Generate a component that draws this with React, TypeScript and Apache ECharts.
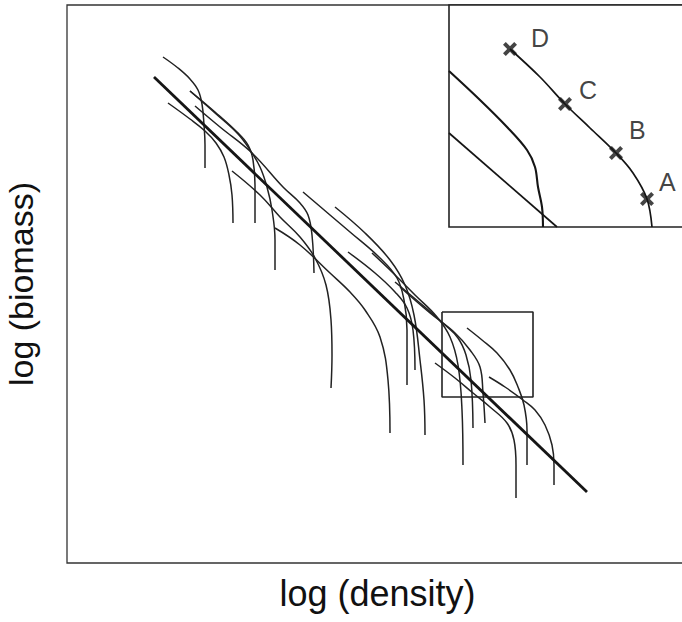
import React, { useEffect, useRef } from "react";
import * as echarts from "echarts";

// Main panel: x = log(density), y = log(biomass), arbitrary units
const thickLine: number[][] = [[87, 486], [520, 71]];

const thinCurves: number[][][] = [
  [[96, 506], [111, 495], [123, 484], [131, 473], [135, 459], [137, 438], [138, 418], [138, 395]],
  [[101, 460], [123, 444], [138, 432], [149, 420], [157, 406], [162, 388], [165, 368], [166, 340]],
  [[123, 472], [148, 451], [170, 431], [181, 418], [186, 403], [188, 378], [188, 340]],
  [[123, 472], [148, 450], [171, 429], [183, 413], [193, 396], [200, 376], [205, 353], [208, 323], [208, 293]],
  [[128, 457], [153, 436], [185, 410], [216, 376], [233, 360], [241, 348], [245, 328], [247, 290]],
  [[165, 392], [193, 368], [213, 346], [233, 326], [248, 305], [259, 278], [264, 243], [265, 208], [264, 175]],
  [[208, 335], [233, 318], [263, 290], [283, 271], [298, 253], [313, 226], [321, 183], [323, 130]],
  [[236, 371], [263, 348], [283, 331], [313, 305], [330, 285], [337, 263], [340, 233], [340, 178]],
  [[281, 311], [308, 290], [328, 271], [340, 255], [346, 233], [348, 193]],
  [[268, 356], [298, 330], [323, 303], [338, 278], [347, 248], [353, 203], [357, 163], [358, 128]],
  [[305, 310], [323, 293], [348, 268], [370, 246], [383, 226], [391, 198], [395, 153], [396, 98]],
  [[328, 281], [353, 260], [378, 238], [391, 225], [399, 208], [404, 183], [406, 135]],
  [[333, 276], [363, 250], [388, 230], [403, 213], [413, 196], [416, 170], [418, 140]],
  [[400, 235], [415, 223], [430, 210], [443, 193], [451, 176], [457, 158], [460, 133], [460, 98]],
  [[422, 186], [438, 176], [456, 163], [468, 153], [478, 138], [485, 118], [487, 98], [487, 78]],
  [[368, 200], [388, 185], [406, 170], [423, 156], [440, 140], [447, 123], [449, 98], [449, 65]],
];

const zoomBox: number[][] = [[375, 251], [466, 251], [466, 166], [375, 166], [375, 251]];

// Inset (magnified region)
const insetMarkedCurve: number[][] = [[61, 178], [91, 150], [116, 123], [141, 99], [167, 74], [184, 54], [198, 28], [203, 0]];
const insetBentCurve: number[][] = [[0, 156], [31, 127], [58, 100], [78, 77], [86, 60], [89, 40], [93, 20], [94, 0]];
const insetStraight: number[][] = [[0, 94], [108, 0]];
const insetPoints: number[][] = [[61, 178], [116, 123], [167, 74], [198, 28]];
const insetLabels: string[] = ["D", "C", "B", "A"];
const labelOffsets: number[][] = [[9, -11], [2, -14], [1, -23], [0, -17]];

const xLabel = "log (density)";
const yLabel = "log (biomass)";

const FONT = "'Liberation Sans', Arial, Helvetica, sans-serif";
const INK = "#151515";
const X_MARK = "path://M0,2L2,0L5,3L8,0L10,2L7,5L10,8L8,10L5,7L2,10L0,8L3,5Z";

export default function App() {
  const ref = useRef<HTMLDivElement>(null);
  useEffect(() => {
    if (!ref.current) return;
    const chart = echarts.init(ref.current, undefined, { renderer: "svg" });
    const hidden = {
      axisLine: { show: false },
      axisTick: { show: false },
      axisLabel: { show: false },
      splitLine: { show: false },
    };
    const series: any[] = [];
    thinCurves.forEach((c, i) => {
      series.push({
        type: "line",
        name: "curve" + i,
        data: c,
        smooth: 0.4,
        showSymbol: false,
        lineStyle: { color: "#222", width: 1.5 },
        xAxisIndex: 0,
        yAxisIndex: 0,
        z: 2,
      });
    });
    series.push({
      type: "line",
      data: thickLine,
      showSymbol: false,
      lineStyle: { color: INK, width: 2.8 },
      xAxisIndex: 0,
      yAxisIndex: 0,
      z: 3,
    });
    series.push({
      type: "line",
      data: zoomBox,
      showSymbol: false,
      lineStyle: { color: "#222", width: 1.6 },
      xAxisIndex: 0,
      yAxisIndex: 0,
      z: 3,
    });
    series.push({
      type: "line",
      data: insetMarkedCurve,
      smooth: 0.35,
      showSymbol: false,
      lineStyle: { color: INK, width: 1.7 },
      xAxisIndex: 1,
      yAxisIndex: 1,
      z: 5,
    });
    series.push({
      type: "line",
      data: insetBentCurve,
      smooth: 0.35,
      showSymbol: false,
      lineStyle: { color: INK, width: 2.1 },
      xAxisIndex: 1,
      yAxisIndex: 1,
      z: 5,
    });
    series.push({
      type: "line",
      data: insetStraight,
      showSymbol: false,
      lineStyle: { color: INK, width: 1.7 },
      xAxisIndex: 1,
      yAxisIndex: 1,
      z: 5,
    });
    series.push({
      type: "scatter",
      data: insetPoints.map((p, i) => ({
        value: p,
        label: {
          show: true,
          formatter: insetLabels[i],
          position: "right",
          distance: 5,
          offset: labelOffsets[i],
        },
      })),
      symbol: X_MARK,
      symbolSize: 14,
      itemStyle: { color: INK },
      label: { color: "#111", fontSize: 25, fontFamily: FONT },
      xAxisIndex: 1,
      yAxisIndex: 1,
      z: 6,
    });

    chart.setOption({
      animation: false,
      backgroundColor: "#ffffff",
      grid: [
        {
          left: 67,
          top: 5,
          width: 621,
          height: 558,
          outerBoundsMode: "none",
          containLabel: false,
          show: true,
          borderColor: "#333",
          borderWidth: 1.3,
          backgroundColor: "transparent",
        },
        {
          left: 449,
          top: 5,
          width: 239,
          height: 222,
          outerBoundsMode: "none",
          containLabel: false,
          show: true,
          borderColor: "#222",
          borderWidth: 1.6,
          backgroundColor: "#ffffff",
          z: 4,
        },
      ],
      xAxis: [
        {
          type: "value",
          gridIndex: 0,
          min: 0,
          max: 621,
          name: xLabel,
          nameLocation: "middle",
          nameGap: 12,
          nameTextStyle: { fontSize: 36, color: "#111", fontFamily: FONT },
          ...hidden,
        },
        { type: "value", gridIndex: 1, min: 0, max: 239, ...hidden },
      ],
      yAxis: [
        {
          type: "value",
          gridIndex: 0,
          min: 0,
          max: 558,
          name: yLabel,
          nameLocation: "middle",
          nameGap: 29,
          nameRotate: 90,
          nameTextStyle: { fontSize: 34, color: "#111", fontFamily: FONT },
          ...hidden,
        },
        { type: "value", gridIndex: 1, min: 0, max: 222, ...hidden },
      ],
      series,
    });
    return () => chart.dispose();
  }, []);
  return (
    <div
      ref={ref}
      style={{ position: "absolute", left: 0, top: 0, width: 682, height: 622 }}
    />
  );
}
